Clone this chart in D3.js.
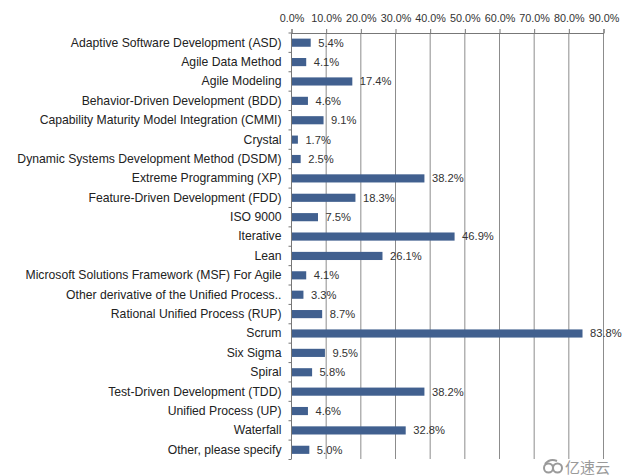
<!DOCTYPE html>
<html><head><meta charset="utf-8">
<script src="https://cdn.jsdelivr.net/npm/d3@7"></script>
<style>body{margin:0;background:#fff}svg{display:block}</style>
</head><body>
<svg id="c" width="636" height="475"></svg>
<script>
const categories = ["Adaptive Software Development (ASD)","Agile Data Method","Agile Modeling","Behavior-Driven Development (BDD)","Capability Maturity Model Integration (CMMI)","Crystal","Dynamic Systems Development Method (DSDM)","Extreme Programming (XP)","Feature-Driven Development (FDD)","ISO 9000","Iterative","Lean","Microsoft Solutions Framework (MSF) For Agile","Other derivative of the Unified Process..","Rational Unified Process (RUP)","Scrum","Six Sigma","Spiral","Test-Driven Development (TDD)","Unified Process (UP)","Waterfall","Other, please specify"];
const values = [5.4,4.1,17.4,4.6,9.1,1.7,2.5,38.2,18.3,7.5,46.9,26.1,4.1,3.3,8.7,83.8,9.5,5.8,38.2,4.6,32.8,5.0];
const tickValues = [0,10,20,30,40,50,60,70,80,90];

const svg = d3.select("#c");
const font = "Liberation Sans, Arial, sans-serif";
const x = d3.scaleLinear().domain([0,90]).range([291.5,603.5]);
const y = d3.scaleBand().domain(categories).range([33,459.5]).paddingInner(0.58).paddingOuter(0.29);

// grid
svg.append("g").selectAll("line").data(tickValues.slice(1)).join("line")
  .attr("x1",d=>x(d)).attr("x2",d=>x(d)).attr("y1",33).attr("y2",459)
  .attr("stroke","#8c8c8c").attr("stroke-width",1);

// top axis
const ax = svg.append("g").attr("transform","translate(0,33)")
  .call(d3.axisTop(x).tickValues(tickValues).tickFormat(d=>d3.format(".1f")(d)+"%").tickSize(4).tickPadding(7));
ax.select(".domain").attr("stroke","#777");
ax.selectAll(".tick line").attr("stroke","#777");
ax.selectAll("text").attr("font-family",font).attr("font-size",10.8).attr("fill","#333");

// left axis
const ly = svg.append("g").attr("transform","translate(291.5,0)")
  .call(d3.axisLeft(y).tickSize(0).tickPadding(10));
ly.select(".domain").attr("stroke","#777").attr("d","M0,33V459");
ly.selectAll("text").attr("font-family",font).attr("font-size",12.2).attr("fill","#222");
// small category separator ticks
const step = y.step();
svg.append("g").selectAll("line").data(d3.range(categories.length+1)).join("line")
  .attr("x1",288.5).attr("x2",291.5)
  .attr("y1",i=>33+i*step).attr("y2",i=>33+i*step).attr("stroke","#777");

// bars
svg.append("g").selectAll("rect").data(values).join("rect")
  .attr("x",x(0)+0.5).attr("y",(d,i)=>y(categories[i]))
  .attr("width",d=>x(d)-x(0)).attr("height",y.bandwidth())
  .attr("fill","#41608f");

// value labels
svg.append("g").selectAll("text").data(values).join("text")
  .attr("x",d=>x(d)+8).attr("y",(d,i)=>y(categories[i])+y.bandwidth()/2)
  .attr("dy","0.35em").attr("font-family",font).attr("font-size",11.2).attr("fill","#333")
  .text(d=>d3.format(".1f")(d)+"%");

// watermark
svg.append("text").attr("x",565).attr("y",472.5)
  .attr("font-family","Noto Sans CJK SC").attr("font-size",15).attr("fill","#9a9a9a").text("亿速云");
const logo = svg.append("g").attr("fill","none").attr("stroke","#9a9a9a").attr("stroke-width",2);
logo.append("circle").attr("cx",548.5).attr("cy",468).attr("r",4.5);
logo.append("circle").attr("cx",557.5).attr("cy",468).attr("r",4.5);
logo.append("path").attr("d","M545,464 Q550,458 557,461");
</script>
</body></html>
